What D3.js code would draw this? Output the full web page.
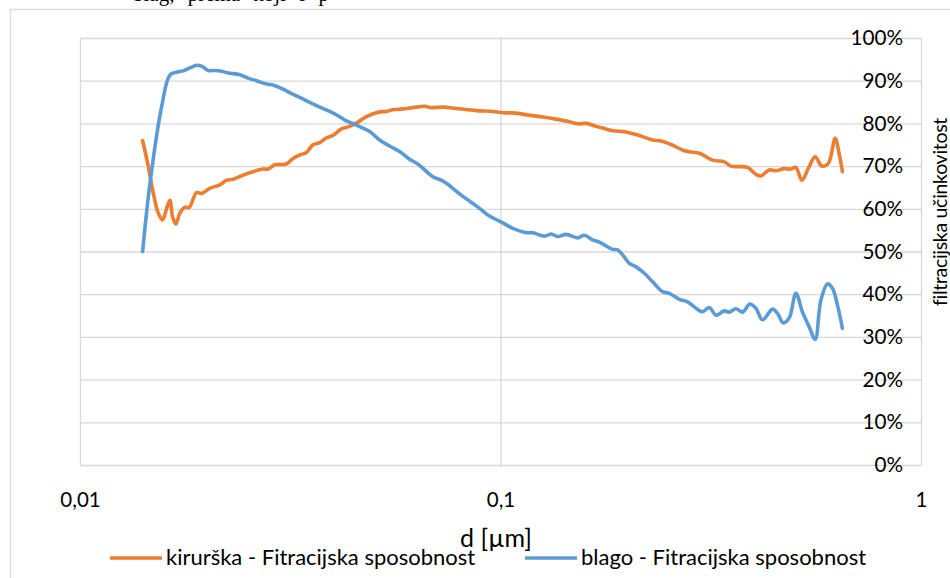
<!DOCTYPE html>
<html>
<head>
<meta charset="utf-8">
<script src="https://cdn.jsdelivr.net/npm/d3@7"></script>
<style>
  html, body { margin: 0; padding: 0; background: #fff; overflow: hidden; }
  svg text { font-family: Lato, "Open Sans", sans-serif; fill: #000; }
  .caption { font-family: "Liberation Serif", "DejaVu Serif", serif; }
</style>
</head>
<body>
<svg id="chart" width="950" height="578"></svg>
<script>
// Particle diameter d [µm] and filtration efficiency [%] — surgical mask
const dKirurska = [0.01409, 0.01453, 0.01494, 0.01535, 0.01572, 0.01607, 0.01636, 0.01660, 0.01690, 0.01728,
  0.01776, 0.01818, 0.01893, 0.01946, 0.02036, 0.02150, 0.02231, 0.02313, 0.02443, 0.02580,
  0.02725, 0.02801, 0.02905, 0.03097, 0.03211, 0.03331, 0.03455, 0.03582, 0.03716, 0.03855,
  0.03997, 0.04184, 0.04378, 0.04581, 0.04797, 0.05159, 0.05352, 0.05549, 0.05861, 0.06190,
  0.06599, 0.06845, 0.07294, 0.07849, 0.08756, 0.09588, 0.1013, 0.1090, 0.1172, 0.1260,
  0.1356, 0.1458, 0.1526, 0.1598, 0.1688, 0.1750, 0.1848, 0.1952, 0.2025, 0.2178,
  0.2300, 0.2408, 0.2566, 0.2736, 0.2970, 0.3194, 0.3405, 0.3532, 0.3867, 0.4049,
  0.4161, 0.4355, 0.4517, 0.4728, 0.4903, 0.5040, 0.5208, 0.5400, 0.5601, 0.5810,
  0.6024, 0.6248, 0.6386, 0.6503];
const effKirurska = [76, 70, 63.7, 59, 57.4, 60.1, 62, 58.2, 56.4, 59,
  60.4, 60.3, 63.8, 63.6, 64.8, 65.6, 66.7, 66.9, 67.9, 68.7,
  69.3, 69.3, 70.3, 70.5, 71.8, 72.6, 73.2, 75, 75.5, 76.6,
  77.2, 78.7, 79.3, 80.3, 81.6, 82.7, 82.8, 83.2, 83.4, 83.7,
  84, 83.7, 83.8, 83.5, 83, 82.8, 82.5, 82.4, 81.9, 81.5,
  81, 80.4, 79.9, 80, 79.3, 78.9, 78.3, 78.1, 77.8, 76.9,
  76.1, 75.9, 74.9, 73.6, 73, 71.4, 71, 70, 69.7, 68.1,
  67.7, 69.1, 68.9, 69.4, 69.3, 69.7, 66.7, 69.5, 72.2, 70,
  70.7, 76.5, 73, 68.7];

// Particle diameter d [µm] and filtration efficiency [%] — fabric ("blago") mask
const dBlago = [0.01409, 0.01467, 0.01564, 0.01636, 0.01697, 0.01759, 0.01825, 0.01893, 0.01946, 0.02017,
  0.02093, 0.02171, 0.02251, 0.02399, 0.02510, 0.02628, 0.02777, 0.02878, 0.03040, 0.03154,
  0.03331, 0.03518, 0.03716, 0.03925, 0.04107, 0.04300, 0.04542, 0.04885, 0.05159, 0.05449,
  0.05755, 0.06079, 0.06306, 0.06537, 0.06906, 0.07294, 0.07704, 0.07991, 0.08442, 0.08917,
  0.09417, 0.1013, 0.1070, 0.1151, 0.1193, 0.1272, 0.1320, 0.1368, 0.1432, 0.1526,
  0.1583, 0.1657, 0.1719, 0.1848, 0.1899, 0.1952, 0.2025, 0.2101, 0.2198, 0.2300,
  0.2429, 0.2520, 0.2662, 0.2786, 0.2917, 0.3024, 0.3137, 0.3254, 0.3405, 0.3499,
  0.3630, 0.3763, 0.3918, 0.4049, 0.4198, 0.4435, 0.4558, 0.4702, 0.4859, 0.5040,
  0.5226, 0.5420, 0.5601, 0.5779, 0.5991, 0.6157, 0.6327, 0.6503];
const effBlago = [50, 66, 84, 91.3, 92, 92.3, 93, 93.6, 93.4, 92.4,
  92.4, 92.2, 91.8, 91.4, 90.6, 90, 89.2, 89, 88, 87.2,
  86.1, 84.9, 83.8, 82.8, 81.8, 80.6, 79.6, 78.1, 76.1, 74.7,
  73.4, 71.6, 70.7, 69.5, 67.5, 66.5, 64.8, 63.5, 61.8, 60.1,
  58.3, 56.7, 55.4, 54.4, 54.4, 53.6, 54.1, 53.5, 54, 53.2,
  53.8, 52.7, 52.2, 50.5, 50.4, 49.2, 47.2, 46.4, 44.9, 42.9,
  40.6, 40.2, 38.8, 38.2, 36.7, 35.9, 36.9, 35.1, 36.1, 35.8,
  36.6, 35.8, 37.7, 36.7, 34, 36.5, 35.5, 33.3, 34.4, 40.2,
  35.8, 32.4, 29.4, 38.6, 42.4, 41.4, 37.5, 32];

const seriesNames = ["kirurška - Fitracijska sposobnost", "blago - Fitracijska sposobnost"];
const seriesColors = ["#ED7D31", "#5B9BD5"];
const xTicks = [0.01, 0.1, 1];
const yTicks = [0, 10, 20, 30, 40, 50, 60, 70, 80, 90, 100];
const xTitle = "d [µm]";
const yTitle = "filtracijska učinkovitost";
const captionText = "blag, prema koji i p";

const svg = d3.select("#chart");
const W = 950, H = 578;
const plot = { left: 80, right: 921, top: 38, bottom: 465 };
const gridColor = "#d9d9d9";

// Line of running text above the chart frame (only its descenders fall inside the view)
svg.append("text").attr("class", "caption")
  .attr("x", 133).attr("y", 1)
  .attr("font-size", 21).attr("word-spacing", 8)
  .text(captionText);

// Chart frame
svg.append("rect")
  .attr("x", 10.5).attr("y", 9.5)
  .attr("width", W + 20).attr("height", H + 20)
  .attr("fill", "none").attr("stroke", gridColor).attr("stroke-width", 1.3);

const x = d3.scaleLog().domain([0.01, 1]).range([plot.left, plot.right]);
const y = d3.scaleLinear().domain([0, 100]).range([plot.bottom, plot.top]);

// Gridlines
const gy = svg.append("g").attr("transform", `translate(${plot.left},0)`)
  .call(d3.axisLeft(y).tickValues(yTicks).tickSize(-(plot.right - plot.left)).tickFormat(""));
gy.select(".domain").remove();
gy.selectAll(".tick line").attr("stroke", gridColor).attr("stroke-width", 1.3);

const gx = svg.append("g").attr("transform", `translate(0,${plot.bottom})`)
  .call(d3.axisBottom(x).tickValues(xTicks).tickSize(-(plot.bottom - plot.top)).tickFormat(""));
gx.select(".domain").remove();
gx.selectAll(".tick line").attr("stroke", gridColor).attr("stroke-width", 1.3);

// Series
const line = d3.line()
  .x(d => x(d[0]))
  .y(d => y(d[1]))
  .curve(d3.curveCatmullRom.alpha(0.5));

const series = [
  d3.zip(dKirurska, effKirurska),
  d3.zip(dBlago, effBlago)
];
series.forEach((s, i) => {
  svg.append("path")
    .datum(s)
    .attr("d", line)
    .attr("fill", "none")
    .attr("stroke", seriesColors[i])
    .attr("stroke-width", 3.6)
    .attr("stroke-linejoin", "round")
    .attr("stroke-linecap", "round");
});

// X axis labels (decimal comma)
const locale = d3.formatLocale({ decimal: ",", thousands: ".", grouping: [3], currency: ["", " €"] });
const fmtX = locale.format("~g");
const ax = svg.append("g").attr("transform", `translate(0,${plot.bottom})`)
  .call(d3.axisBottom(x).tickValues(xTicks).tickSize(0).tickPadding(27).tickFormat(fmtX));
ax.select(".domain").remove();
ax.selectAll("text").attr("font-size", 20.5).attr("font-family", null).attr("fill", "#000");

// Y axis labels, right side
const ay = svg.append("g").attr("transform", `translate(903,0)`)
  .call(d3.axisLeft(y).tickValues(yTicks).tickSize(0).tickPadding(0).tickFormat(d => d + "%"));
ay.select(".domain").remove();
ay.selectAll("text").attr("font-size", 20.7).attr("font-family", null).attr("fill", "#000");

// Axis titles
svg.append("text")
  .attr("x", 496).attr("y", 547)
  .attr("text-anchor", "middle").attr("font-size", 25)
  .text(xTitle);

svg.append("text")
  .attr("transform", "translate(947,212) rotate(-90)")
  .attr("text-anchor", "middle").attr("font-size", 19.5)
  .attr("letter-spacing", -0.3)
  .text(yTitle);

// Legend
const legendItems = [{ x: 110 }, { x: 525 }];
legendItems.forEach((it, i) => {
  svg.append("line")
    .attr("x1", it.x).attr("x2", it.x + 52)
    .attr("y1", 558).attr("y2", 558)
    .attr("stroke", seriesColors[i]).attr("stroke-width", 3.6);
  svg.append("text")
    .attr("x", it.x + 56).attr("y", 565)
    .attr("font-size", 22)
    .text(seriesNames[i]);
});
</script>
</body>
</html>
